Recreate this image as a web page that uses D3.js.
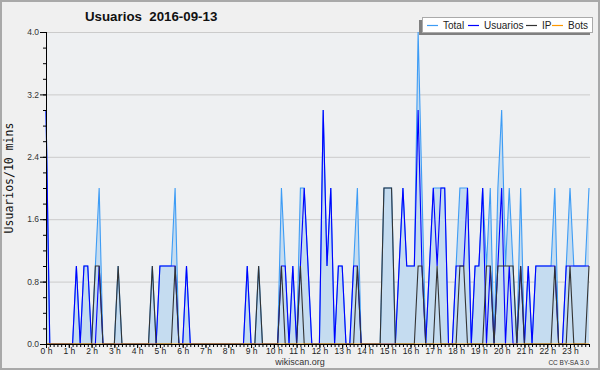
<!DOCTYPE html>
<html><head><meta charset="utf-8">
<script src="https://cdn.jsdelivr.net/npm/d3@7"></script>
<style>body{margin:0;background:#f0f0f0}svg{display:block}</style>
</head><body>
<svg id="c" width="600" height="370"></svg>
<script>
const title = "Usuarios  2016-09-13";
const yLabel = "Usuarios/10 mins";
const seriesNames = ["Total", "Usuarios", "IP", "Bots"];
const seriesColors = ["#3d9cf5", "#0000ff", "#333333", "#ff9900"];
const yTicks = [0, 0.8, 1.6, 2.4, 3.2, 4.0];
const hourLabels = d3.range(0, 24).map(h => h + " h");
// 144 ten-minute slots
const total = [
3,0,0,0,0,0,0,0,1,0,1,1,
0,1,2,0,0,0,0,1,0,0,0,0,
0,0,0,0,1,0,1,1,1,1,2,0,
0,1,0,0,0,0,0,0,0,0,0,0,
0,0,0,0,0,1,0,0,1,0,0,0,
0,0,2,1,0,1,0,2,2,1,0,0,
0,3,1,2,0,1,1,0,0,1,2,0,
0,0,0,0,0,2,2,2,0,1,2,1,
1,1,4,2,0,1,2,2,2,2,0,0,
1,2,2,2,0,1,1,2,1,2,0,2,
3,1,2,1,0,2,0,1,0,1,1,1,
1,1,2,0,0,1,2,1,1,1,1,2];
const usuarios = [
3,0,0,0,0,0,0,0,1,0,1,1,
0,0,1,0,0,0,0,0,0,0,0,0,
0,0,0,0,0,0,1,1,1,1,1,0,
0,1,0,0,0,0,0,0,0,0,0,0,
0,0,0,0,0,1,0,0,0,0,0,0,
0,0,1,1,0,1,0,1,2,1,0,0,
0,3,1,2,0,1,1,0,0,1,1,0,
0,0,0,0,0,0,0,0,0,1,2,1,
1,1,3,1,0,1,2,1,2,2,0,0,
1,1,1,2,0,1,1,2,0,1,0,1,
2,0,1,0,0,1,0,1,0,1,1,1,
1,1,1,0,0,1,1,1,1,1,1,1];
const ip = [
0,0,0,0,0,0,0,0,0,0,0,0,
0,1,1,0,0,0,0,1,0,0,0,0,
0,0,0,0,1,0,0,0,0,0,1,0,
0,0,0,0,0,0,0,0,0,0,0,0,
0,0,0,0,0,0,0,0,1,0,0,0,
0,0,1,0,0,0,0,1,0,0,0,0,
0,0,0,0,0,0,0,0,0,0,1,0,
0,0,0,0,0,2,2,2,0,0,0,0,
0,0,1,1,0,0,0,1,0,0,0,0,
0,1,1,0,0,0,0,0,1,1,0,1,
1,1,1,1,0,1,0,0,0,0,0,0,
0,0,1,0,0,0,1,0,0,0,0,1];
const bots = new Array(144).fill(0);

const svg = d3.select("#c");
const W = 600, H = 370;
const L = 46, R = 589, T = 32, B = 344;

svg.append("rect").attr("x",1).attr("y",1).attr("width",W-2).attr("height",H-2)
  .attr("fill","#f0f0f0").attr("stroke","#a9a9a9").attr("stroke-width",2);
svg.append("rect").attr("x",L).attr("y",T).attr("width",590-L).attr("height",B-T).attr("fill","#eef0f2");

const x = d3.scaleLinear().domain([0,143]).range([L,R]);
const y = d3.scaleLinear().domain([0,4]).range([B,T]);

// grid
svg.append("g").selectAll("line").data(yTicks.slice(1)).join("line")
  .attr("x1",L).attr("x2",590).attr("y1",d=>y(d)+0.5).attr("y2",d=>y(d)+0.5)
  .attr("stroke","#cbcbcb").attr("stroke-width",1);

// series
const idx = d3.range(144);
const area = d3.area().x(i=>x(i)).y0(B).y1(i=>y(total[i]));
svg.append("path").attr("d",area(idx)).attr("fill","#c5dcf0");
const mk = arr => d3.line().x(i=>x(i)).y(i=>y(arr[i]))(idx);
[[total,0],[usuarios,1],[ip,2],[bots,3]].forEach(([arr,k])=>{
  svg.append("path").attr("d",mk(arr)).attr("fill","none")
    .attr("stroke",seriesColors[k]).attr("stroke-width",1.1).attr("stroke-linejoin","miter");
});

// axes
const fontS = "Liberation Sans, Arial, sans-serif";
const xMinor = d3.axisBottom(x).tickValues(d3.range(0,144)).tickSize(3).tickFormat("");
const gxm = svg.append("g").attr("transform",`translate(0,${B})`).call(xMinor);
const xMajor = d3.axisBottom(x).tickValues(d3.range(0,144,6)).tickSize(4)
  .tickFormat(d=>hourLabels[d/6]).tickPadding(0);
const gx = svg.append("g").attr("transform",`translate(0,${B})`).call(xMajor);
[gxm,gx].forEach(g=>{g.select(".domain").attr("d",`M${L},0.5H590`).attr("stroke","#000");
  g.selectAll(".tick line").attr("stroke","#000");});
gx.selectAll("text").attr("font-family",fontS).attr("font-size",8.5).attr("fill","#222");

const yMinor = d3.axisLeft(y).tickValues(d3.range(0,21).map(i=>i*0.2)).tickSize(3).tickFormat("");
const gym = svg.append("g").attr("transform",`translate(${L},0)`).call(yMinor);
const yMajor = d3.axisLeft(y).tickValues(yTicks).tickSize(6).tickFormat(d3.format(".1f")).tickPadding(1);
const gy = svg.append("g").attr("transform",`translate(${L},0)`).call(yMajor);
[gym,gy].forEach(g=>{g.select(".domain").attr("d",`M0.5,${B}V${T}`).attr("stroke","#000");
  g.selectAll(".tick line").attr("stroke","#000");});
gy.selectAll("text").attr("font-family",fontS).attr("font-size",8.5).attr("fill","#333");

// title
svg.append("text").attr("x",85).attr("y",21).attr("font-family",fontS).attr("font-weight","bold")
  .attr("font-size",13.3).attr("fill","#111").attr("xml:space","preserve").style("white-space","pre").text(title);
// y label
svg.append("text").attr("transform","translate(13,178) rotate(-90)").attr("text-anchor","middle")
  .attr("font-family","DejaVu Sans Mono, monospace").attr("font-size",11.5).attr("fill","#111").text(yLabel);
// footer
svg.append("text").attr("x",300).attr("y",365).attr("text-anchor","middle").attr("font-family",fontS)
  .attr("font-size",9).attr("fill","#333").text("wikiscan.org");
svg.append("text").attr("x",589).attr("y",365).attr("text-anchor","end").attr("font-family",fontS)
  .attr("font-size",6.5).attr("fill","#333").text("CC BY-SA 3.0");

// legend
const lg = svg.append("g");
lg.append("rect").attr("x",419).attr("y",20).attr("width",171).attr("height",15).attr("fill","#808080");
lg.append("rect").attr("x",422.5).attr("y",17.5).attr("width",170).attr("height",15).attr("fill","#fff").attr("stroke","#aaa");
const items = [[427,443],[468,484],[526,542],[552,568]];
items.forEach(([lx,tx],k)=>{
  lg.append("line").attr("x1",lx).attr("x2",lx+11).attr("y1",25.5).attr("y2",25.5)
    .attr("stroke",seriesColors[k]).attr("stroke-width",1.2);
  lg.append("text").attr("x",tx).attr("y",29).attr("font-family",fontS).attr("font-size",10)
    .attr("fill","#222").text(seriesNames[k]);
});
</script>
</body></html>
